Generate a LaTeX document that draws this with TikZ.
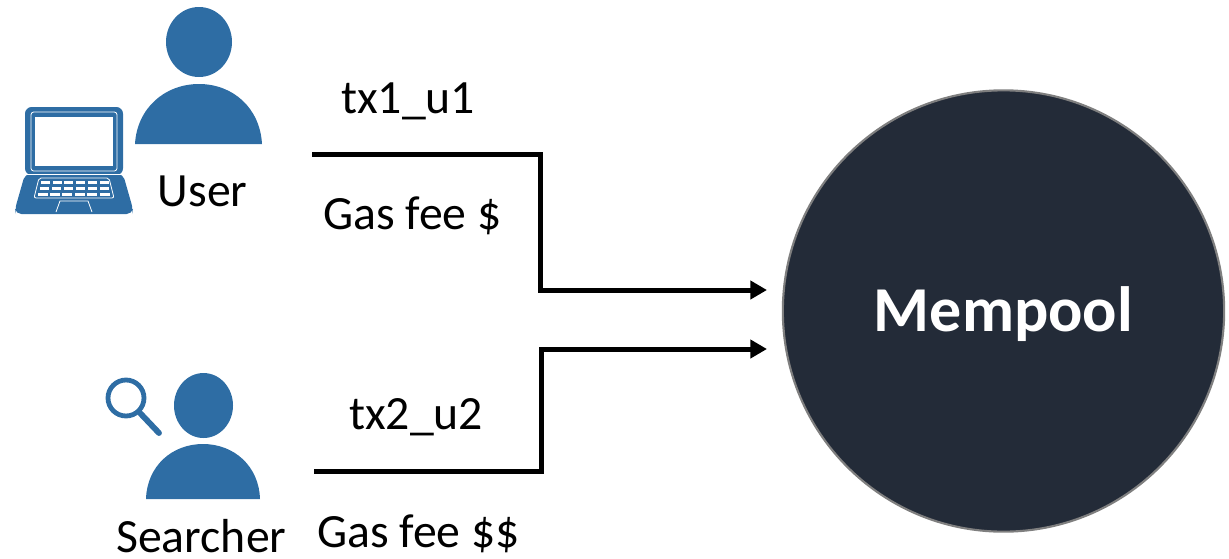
\documentclass[tikz,border=0pt]{standalone}
\usepackage{fontspec}
\setmainfont{Carlito}
\definecolor{iconblue}{HTML}{2E6DA4}
\definecolor{pooldark}{HTML}{232B38}
\definecolor{poolrim}{HTML}{7F7F7F}
\tikzset{
  lbl/.style={inner sep=0pt,anchor=base west,font=\fontsize{35.8}{40}\selectfont,text=black},
  wire/.style={draw=black,line width=3.75pt,-{Triangle[length=12.5pt,width=13.5pt]},line join=miter},
  icon/.style={fill=iconblue,draw=none},
  gap/.style={draw=white,line width=0.6pt},
}
\usetikzlibrary{arrows.meta}
\begin{document}
\begin{tikzpicture}[x=0.75pt,y=-0.75pt]
\useasboundingbox (0,0) rectangle (1229,558);
% user figure
\fill[icon] (199,42) ellipse [x radius=33,y radius=35];
\fill[icon] (135,144) .. controls (137,108) and (165,84) .. (199,84) .. controls (233,84) and (260,108) .. (262,144) -- cycle;
% laptop
\fill[icon,rounded corners=5pt] (25,175) -- (25,107) -- (123,107) -- (123,175) -- cycle;
\fill[icon,rounded corners=4pt] (25,174) -- (123,174) -- (133,209) -- (132,214) -- (16,214) -- (15,209) -- cycle;
\draw[gap,rounded corners=2pt] (31,171) -- (31,112) -- (117,112) -- (117,171) -- cycle;
\fill[white] (35,116.5) rectangle (113,165.5);
\draw[gap] (26,174.5) -- (122,174.5);
\draw[gap,rounded corners=1.5pt] (39,178) -- (109,178) -- (114,198) -- (34,198) -- cycle;
\draw[gap] (56,212) -- (60,201) -- (88,201) -- (92,212);
\foreach \k in {0,...,5}{
  \fill[white] ({41+11.7*\k},181) rectangle +(9,3);
  \fill[white] ({39.5+12*\k},187) rectangle +(9.5,3);
  \fill[white] ({37.5+12.4*\k},192.5) rectangle +(10,3);
}
% searcher figure
\fill[icon] (203.5,405.5) ellipse [x radius=29.5,y radius=32.5];
\fill[icon] (146,499) .. controls (147,466) and (172,444) .. (203,444) .. controls (234,444) and (259,466) .. (260,499) -- cycle;
\draw[iconblue,line width=3.6pt] (126,398) circle [radius=13.5pt];
\draw[iconblue,line width=4.4pt,line cap=round] (140.5,413.5) -- (159,433);
% mempool
\node (mempool) at (1003.5,311) [circle,minimum size=331pt,inner sep=0pt,fill=pooldark,draw=poolrim,line width=1.6pt,text=white,font=\bfseries\fontsize{48}{54}\selectfont] {\raisebox{-15pt}[0pt][0pt]{Mempool}};
% labels
\node[lbl] (userlbl) at (157.5,206.5) {User};
\node[lbl] (searcherlbl) at (116,552) {Searcher};
\node[lbl] (tx1) at (341,113) {tx1\_u1};
\node[lbl] (fee1) at (323,229.5) {Gas fee \$};
\node[lbl] (tx2) at (349,429.5) {tx2\_u2};
\node[lbl] (fee2) at (317,547) {Gas fee \$\$};
% connectors
\coordinate (s1) at (312,154);
\coordinate (e1) at (767,290);
\coordinate (s2) at (314,471);
\coordinate (e2) at (767,349);
\draw[wire] (s1) -- (540,154) -- (540,290) -- (e1);
\draw[wire] (s2) -- (541,471) -- (541,349) -- (e2);
\end{tikzpicture}
\end{document}
